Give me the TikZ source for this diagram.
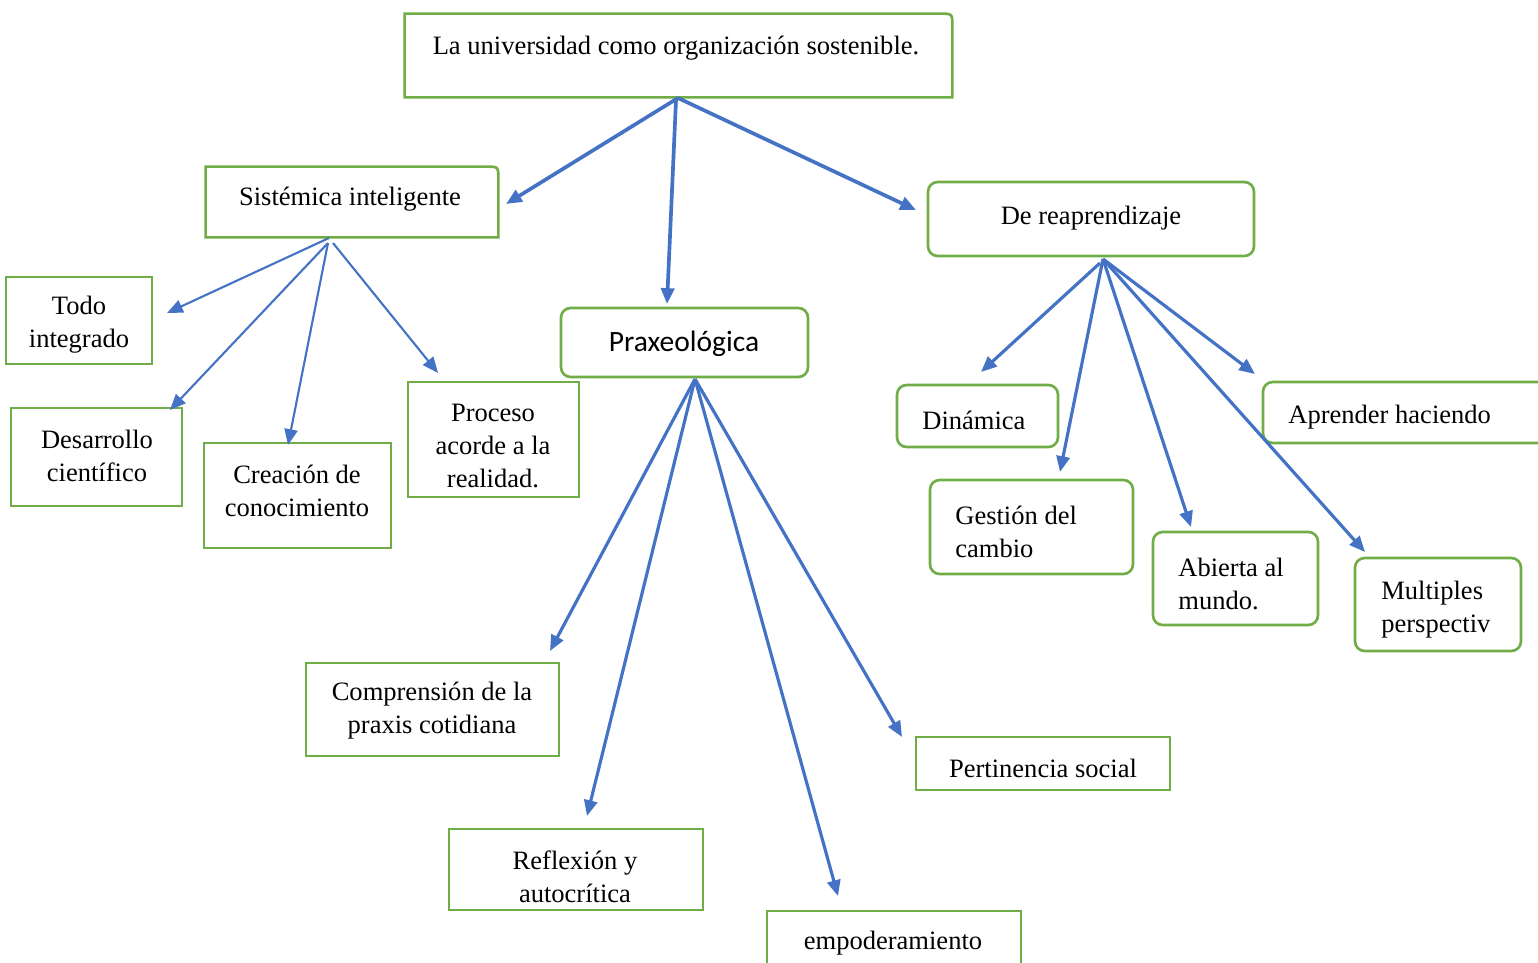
\documentclass[tikz,border=0pt]{standalone}
\usepackage{fontspec}
\setmainfont{Liberation Serif}
\newfontfamily\calib{Carlito}
\usetikzlibrary{arrows.meta,fit}
\definecolor{boxgreen}{RGB}{112,173,71}
\definecolor{arrblue}{RGB}{68,114,196}
\begin{document}
\begin{tikzpicture}[x=0.02cm,y=-0.02cm,
  gbox/.style={draw=boxgreen, line width=1.5pt, inner sep=0pt},
  rbox/.style={gbox, rounded corners=5.5pt},
  hbox/.style={inner sep=0pt},
  lbl/.style={font=\fontsize{15.1}{18.7}\selectfont, align=center, inner sep=0pt},
  lbll/.style={lbl, align=left, anchor=west},
  arr/.style={draw=arrblue, line width=1.8pt, -{Triangle[length=9pt,width=7.5pt]}},
  arrthin/.style={arr, line width=1.2pt},
  arrthick/.style={arr, line width=2.1pt}]
\useasboundingbox (0,0) rectangle (1538,963);

% ---- boxes ----
\node[hbox, fit={(405,14)(952,97)}] (top) {};
\draw[boxgreen, line width=1.5pt] (top.south west) -- (top.north west) -- ([xshift=-7pt]top.north east) .. controls (top.north east) .. ([yshift=-7pt]top.north east) -- (top.south east) -- cycle;
\node[hbox, fit={(206,167)(498,237)}] (sis) {};
\draw[boxgreen, line width=1.5pt] (sis.south west) -- (sis.north west) -- ([xshift=-7pt]sis.north east) .. controls (sis.north east) .. ([yshift=-7pt]sis.north east) -- (sis.south east) -- cycle;
\node[rbox, fit={(928,182)(1254,256)}] (rea) {};
\node[rbox, fit={(561,308)(808,377)}] (pra) {};

\node[gbox, fit={(6,277)(152,364)}] (todo) {};
\node[gbox, fit={(11,408)(182,506)}] (des) {};
\node[gbox, fit={(204,443)(391,548)}] (cre) {};
\node[gbox, fit={(408,382)(579,497)}] (pro) {};

\node[gbox, fit={(306,663)(559,756)}] (com) {};
\node[gbox, fit={(449,829)(703,910)}] (ref) {};
\node[gbox, fit={(767,911)(1021,980)}] (emp) {};
\node[gbox, fit={(916,737)(1170,790)}] (per) {};

\node[rbox, fit={(897,385)(1058,447)}] (din) {};
\node[rbox, fit={(930,480)(1133,574)}] (ges) {};
\node[rbox, fit={(1153,532)(1318,625)}] (abi) {};
\node[rbox, fit={(1355,558)(1521,651)}] (mul) {};
\node[rbox, fit={(1263,382)(1560,443)}] (apr) {};

% ---- labels ----
\node[lbl] (ttop) at (676,48) {La universidad como organización sostenible.};
\node[lbl] (tsis) at (350,199) {Sistémica inteligente};
\node[lbl] (trea) at (1091,218) {De reaprendizaje};
\node[lbl, font=\calib\fontsize{16.8}{20}\selectfont] (tpra) at (684,344) {Praxeológica};
\node[lbl] (ttodo) at (79,325) {Todo\\integrado};
\node[lbl] (tdes) at (97,456) {Desarrollo\\científico};
\node[lbl] (tcre) at (297,491) {Creación de\\conocimiento};
\node[lbl] (tpro) at (493,446) {Proceso\\acorde a la\\realidad.};
\node[lbl] (tcom) at (432,711) {Comprensión de la\\praxis cotidiana};
\node[lbl] (tref) at (575,877) {Reflexión y\\autocrítica};
\node[lbl] (temp) at (893,943) {empoderamiento};
\node[lbl] (tper) at (1043,768) {Pertinencia social};
\node[lbll] (tdin) at (922,420) {Dinámica};
\node[lbll] (tges) at (955,532) {Gestión del\\cambio};
\node[lbll] (tabi) at (1178,584) {Abierta al\\mundo.};
\node[lbll] (tmul) at (1381,610) {Multiples\\perspectiv};
\node[lbll] (tapr) at (1288,417) {Aprender haciendo};

% ---- connector ends ----
\coordinate (s1) at (678,98);
\coordinate (s1b) at (676,100);
\coordinate (e1a) at (506,204);
\coordinate (e1b) at (667,304);
\coordinate (e1c) at (916,210);

\coordinate (s2a) at (329,238);
\coordinate (s2b) at (328,243);
\coordinate (s2c) at (333,243);
\coordinate (e2a) at (167,313);
\coordinate (e2b) at (170,410);
\coordinate (e2c) at (288,445);
\coordinate (e2d) at (438,373);

\coordinate (s3) at (695,379);
\coordinate (e3a) at (550,651);
\coordinate (e3b) at (587,816);
\coordinate (e3c) at (838,896);
\coordinate (e3d) at (902,737);

\coordinate (s4) at (1103,259);
\coordinate (s4b) at (1100,263);
\coordinate (e4a) at (981,372);
\coordinate (e4b) at (1060,472);
\coordinate (e4c) at (1191,527);
\coordinate (e4d) at (1365,552);
\coordinate (e4e) at (1255,374);

% ---- connectors ----
\draw[arrthick] (s1) -- (e1a);
\draw[arrthick] (s1b) -- (e1b);
\draw[arrthick] (s1) -- (e1c);

\draw[arrthin] (s2a) -- (e2a);
\draw[arrthin] (s2b) -- (e2b);
\draw[arrthin] (s2b) -- (e2c);
\draw[arrthin] (s2c) -- (e2d);

\draw[arr] (s3) -- (e3a);
\draw[arr] (s3) -- (e3b);
\draw[arr] (s3) -- (e3c);
\draw[arr] (s3) -- (e3d);

\draw[arr] (s4b) -- (e4a);
\draw[arr] (s4) -- (e4b);
\draw[arr] (s4) -- (e4c);
\draw[arr] (s4) -- (e4d);
\draw[arr] (s4) -- (e4e);
\end{tikzpicture}
\end{document}
